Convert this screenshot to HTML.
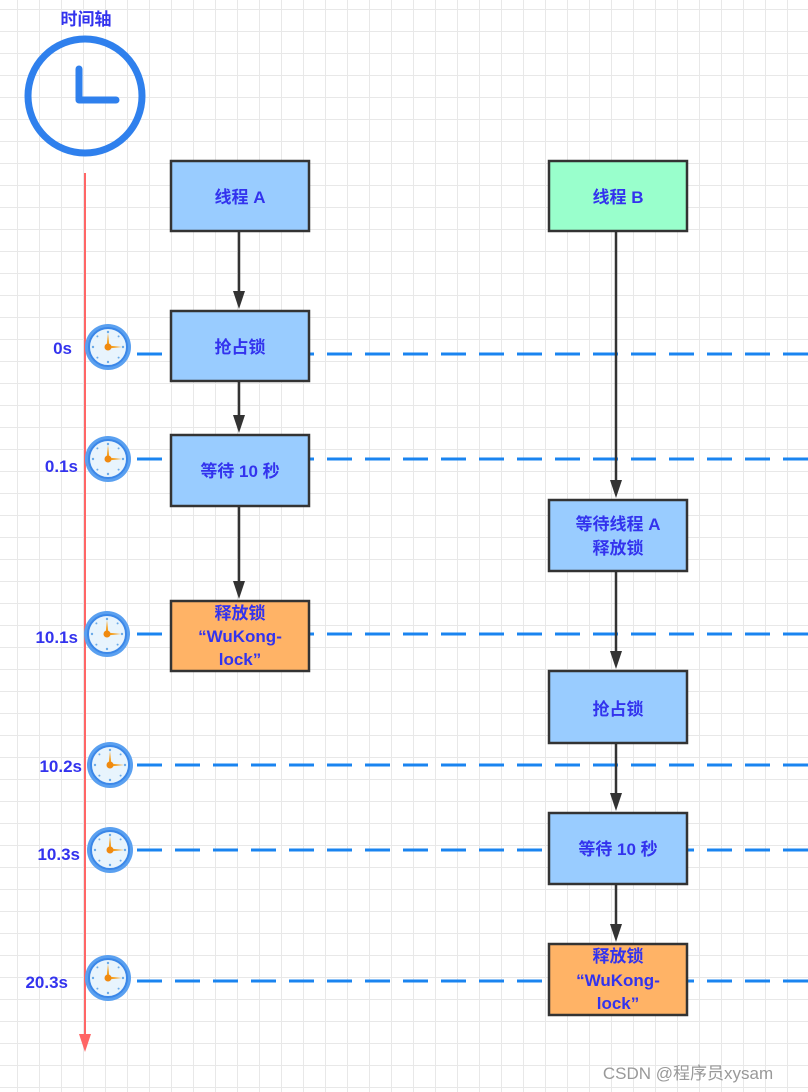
<!DOCTYPE html>
<html><head><meta charset="utf-8"><style>
body{margin:0;width:808px;height:1092px;overflow:hidden;background:#fff}
svg{display:block}
text{font-family:"Liberation Sans","Noto Sans CJK SC",sans-serif;fill:#3333ee;font-size:17px;text-anchor:middle;font-weight:bold}
</style></head><body>
<svg width="808" height="1092" viewBox="0 0 808 1092" xmlns="http://www.w3.org/2000/svg">
<defs>
<pattern id="g" x="17" y="9" width="22" height="22" patternUnits="userSpaceOnUse">
<path d="M0 0V22M0 0H22" stroke="#e8e8e8" stroke-width="2" fill="none"/>
</pattern>
<g id="ck">
<circle r="23" fill="#5aa0f0"/>
<circle r="19" fill="#e8f4fd" stroke="#3b87e8" stroke-width="2"/>
<g fill="#6aaae8"><circle cx="0" cy="-15" r="1.2"/><circle cx="15" cy="0" r="1.2"/><circle cx="0" cy="15" r="1.2"/><circle cx="-15" cy="0" r="1.2"/><circle cx="10.6" cy="10.6" r="1"/><circle cx="-10.6" cy="10.6" r="1"/><circle cx="10.6" cy="-10.6" r="1"/><circle cx="-10.6" cy="-10.6" r="1"/></g>
<path d="M-1.5 0L0 -14L1.5 0Z" fill="#f5a020"/><path d="M0 -1.5L14 0L0 1.5Z" fill="#f5a020"/>
<circle r="3.5" fill="#f08a10"/>
</g>
</defs>
<rect width="808" height="1092" fill="url(#g)"/>
<text x="86" y="25" font-size="16">时间轴</text>
<circle cx="85" cy="96" r="57" fill="none" stroke="#2f80ed" stroke-width="7"/>
<path d="M79 69V100H116" fill="none" stroke="#2f80ed" stroke-width="7" stroke-linecap="round" stroke-linejoin="round"/>
<line x1="85" y1="173" x2="85" y2="1036" stroke="#ff6666" stroke-width="2"/>
<path d="M79 1034L91 1034L85 1052Z" fill="#ff6666"/>
<g stroke="#1a84f0" stroke-width="3" stroke-dasharray="25 13">
<line x1="137" y1="354" x2="808" y2="354"/><line x1="137" y1="459" x2="808" y2="459"/>
<line x1="137" y1="634" x2="808" y2="634"/><line x1="137" y1="765" x2="808" y2="765"/>
<line x1="137" y1="850" x2="808" y2="850"/><line x1="137" y1="981" x2="808" y2="981"/>
</g>
<use href="#ck" x="108" y="347"/><use href="#ck" x="108" y="459"/><use href="#ck" x="107" y="634"/>
<use href="#ck" x="110" y="765"/><use href="#ck" x="110" y="850"/><use href="#ck" x="108" y="978"/>
<text x="72" y="354" style="text-anchor:end">0s</text><text x="78" y="472" style="text-anchor:end">0.1s</text>
<text x="78" y="643" style="text-anchor:end">10.1s</text><text x="82" y="772" style="text-anchor:end">10.2s</text>
<text x="80" y="860" style="text-anchor:end">10.3s</text><text x="68" y="988" style="text-anchor:end">20.3s</text>
<g stroke="#333" stroke-width="2.5">
<line x1="239" y1="231" x2="239" y2="293"/>
<line x1="239" y1="381" x2="239" y2="417"/>
<line x1="239" y1="506" x2="239" y2="583"/>
<line x1="616" y1="231" x2="616" y2="482"/>
<line x1="616" y1="571" x2="616" y2="653"/>
<line x1="616" y1="743" x2="616" y2="795"/>
<line x1="616" y1="884" x2="616" y2="926"/>
</g>
<g fill="#333">
<path d="M233 291H245L239 309Z"/><path d="M233 415H245L239 433Z"/><path d="M233 581H245L239 599Z"/>
<path d="M610 480H622L616 498Z"/><path d="M610 651H622L616 669Z"/><path d="M610 793H622L616 811Z"/><path d="M610 924H622L616 942Z"/>
</g>
<g stroke="#333" stroke-width="2.5">
<rect x="171" y="161" width="138" height="70" fill="#99ccff"/>
<rect x="171" y="311" width="138" height="70" fill="#99ccff"/>
<rect x="171" y="435" width="138" height="71" fill="#99ccff"/>
<rect x="171" y="601" width="138" height="70" fill="#ffb366"/>
<rect x="549" y="161" width="138" height="70" fill="#99ffcc"/>
<rect x="549" y="500" width="138" height="71" fill="#99ccff"/>
<rect x="549" y="671" width="138" height="72" fill="#99ccff"/>
<rect x="549" y="813" width="138" height="71" fill="#99ccff"/>
<rect x="549" y="944" width="138" height="71" fill="#ffb366"/>
</g>
<text x="240" y="203">线程 A</text>
<text x="240" y="353">抢占锁</text>
<text x="240" y="477">等待 10 秒</text>
<text x="240" y="619">释放锁</text><text x="240" y="642">“WuKong-</text><text x="240" y="665">lock”</text>
<text x="618" y="203">线程 B</text>
<text x="618" y="530">等待线程 A</text><text x="618" y="554">释放锁</text>
<text x="618" y="715">抢占锁</text>
<text x="618" y="855">等待 10 秒</text>
<text x="618" y="962">释放锁</text><text x="618" y="986">“WuKong-</text><text x="618" y="1009">lock”</text>
<text x="688" y="1079" style="fill:#999;font-weight:normal">CSDN @程序员xysam</text>
</svg>
</body></html>
